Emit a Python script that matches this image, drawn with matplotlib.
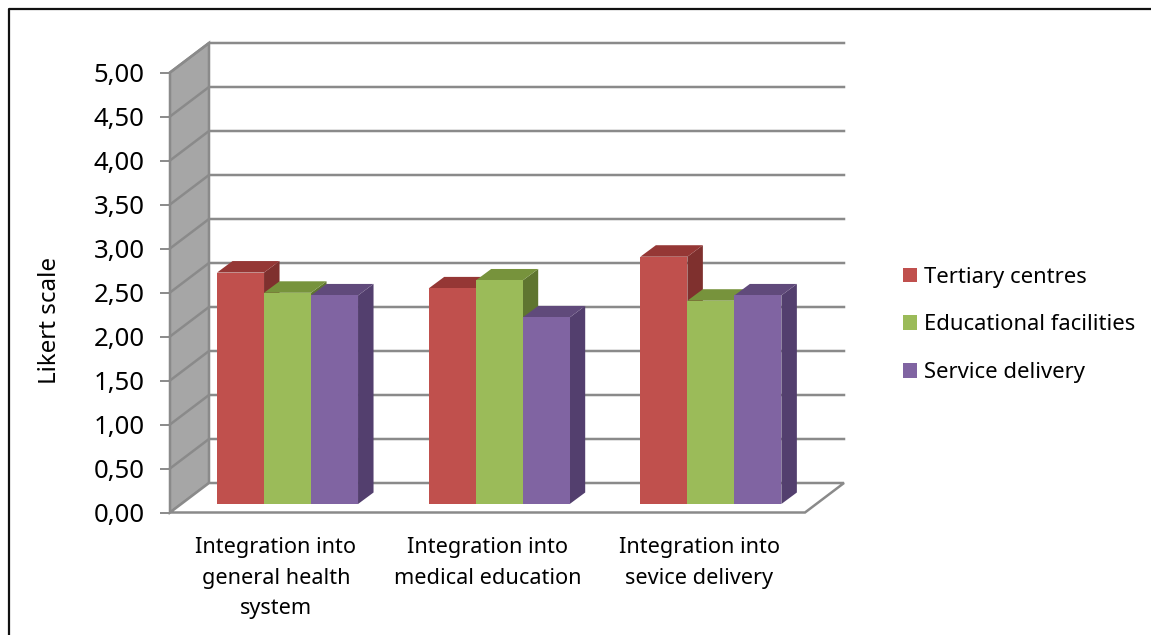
import matplotlib
matplotlib.use('Agg')
from matplotlib import pyplot as plt
from matplotlib.patches import Polygon
from matplotlib.ticker import FuncFormatter
from matplotlib.transforms import Affine2D, IdentityTransform

plt.rcParams['font.family'] = ['Noto Sans', 'DejaVu Sans']

categories = ['Integration into\ngeneral health\nsystem',
              'Integration into\nmedical education',
              'Integration into\nsevice delivery']
tertiary = [2.63, 2.45, 2.81]
educational = [2.40, 2.54, 2.31]
service = [2.37, 2.12, 2.37]
yticks = [0, 0.5, 1, 1.5, 2, 2.5, 3, 3.5, 4, 4.5, 5]

W, H = 1151, 635
GRID = '#8a8a8a'
# px offsets of the fake 3D: wall depth, bar plane, bar depth
WALL = (39, 29.5)
BAR_PLANE = (11.7, 8.5)
BAR_DEPTH = (15.5, 11.5)
BAR_W = 47 / 211.67

fig = plt.figure(figsize=(W / 100, H / 100), dpi=100)
ax = fig.add_axes([170 / W, (H - 512.5) / H, 635 / W, 440 / H])
ax.set_xlim(0, 3)
ax.set_ylim(0, 5)
for s in ax.spines.values():
    s.set_visible(False)
ax.patch.set_visible(False)
px = IdentityTransform()


def to_px(x, y, off=(0, 0)):
    p = ax.transData.transform((x, y))
    return (p[0] + off[0], p[1] + off[1])


def add_poly(points, face, edge='none', lw=0, z=1):
    ax.add_patch(Polygon(points, closed=True, transform=px, facecolor=face,
                         edgecolor=edge, linewidth=lw, zorder=z, clip_on=False))


# side wall and floor
add_poly([to_px(0, 0), to_px(0, 5), to_px(0, 5, WALL), to_px(0, 0, WALL)],
         '#a6a6a6', GRID, 1.8)
add_poly([to_px(0, 0), to_px(3, 0), to_px(3, 0, WALL), to_px(0, 0, WALL)],
         'white', GRID, 1.8)

# gridlines run along the side wall then the back wall
for v in yticks[1:]:
    a, b, c = to_px(0, v), to_px(0, v, WALL), to_px(3, v, WALL)
    ax.plot([a[0], b[0], c[0]], [a[1], b[1], c[1]], color=GRID, lw=1.8,
            transform=px, zorder=2, clip_on=False, solid_joinstyle='miter')

series = [('Tertiary centres', tertiary, '#C0504D', '#953735', '#7F302E'),
          ('Educational facilities', educational, '#9BBB59', '#77933C', '#5F7530'),
          ('Service delivery', service, '#8064A2', '#604A7B', '#533F6E')]

front = ax.transData + Affine2D().translate(*BAR_PLANE)
for j, (name, vals, col, top, side) in enumerate(series):
    xs = [i + 0.5 + (j - 1) * BAR_W for i in range(3)]
    z = 3 + j * 3
    ax.bar(xs, vals, BAR_W, color=col, label=name, transform=front, zorder=z + 2)
    for x, v in zip(xs, vals):
        x0, x1 = x - BAR_W / 2, x + BAR_W / 2
        off = (BAR_PLANE[0] + BAR_DEPTH[0], BAR_PLANE[1] + BAR_DEPTH[1])
        add_poly([to_px(x1, 0, BAR_PLANE), to_px(x1, v, BAR_PLANE),
                  to_px(x1, v, off), to_px(x1, 0, off)], side, z=z)
        add_poly([to_px(x0, v, BAR_PLANE), to_px(x1, v, BAR_PLANE),
                  to_px(x1, v, off), to_px(x0, v, off)], top, z=z + 1)

ax.set_yticks(yticks)
ax.yaxis.set_major_formatter(FuncFormatter(lambda v, p: f'{v:.2f}'.replace('.', ',')))
ax.tick_params(axis='y', length=7.2, width=1.4, color=GRID, pad=11, labelsize=18.5)
ax.set_xticks([0.5, 1.5, 2.5])
ax.set_xticklabels(categories, linespacing=1.58)
ax.tick_params(axis='x', length=0, pad=18, labelsize=15.6)
ax.set_ylabel('Likert scale', fontsize=17.4)
ax.yaxis.set_label_coords(-108 / 635, 192 / 440)

fig.legend(loc='center left', bbox_to_anchor=(903 / W, (H - 325) / H), frameon=False,
           fontsize=15.85, labelspacing=1.22, handlelength=0.64, handleheight=0.64,
           handletextpad=0.32, borderpad=0, borderaxespad=0)

# picture border, only top and left show in the crop
fig.add_artist(plt.Line2D([8.5 / W, 8.5 / W, 1],
                          [0, (H - 8.5) / H, (H - 8.5) / H],
                          color='#111111', lw=1.6))

fig.savefig('out.png', dpi=100)
